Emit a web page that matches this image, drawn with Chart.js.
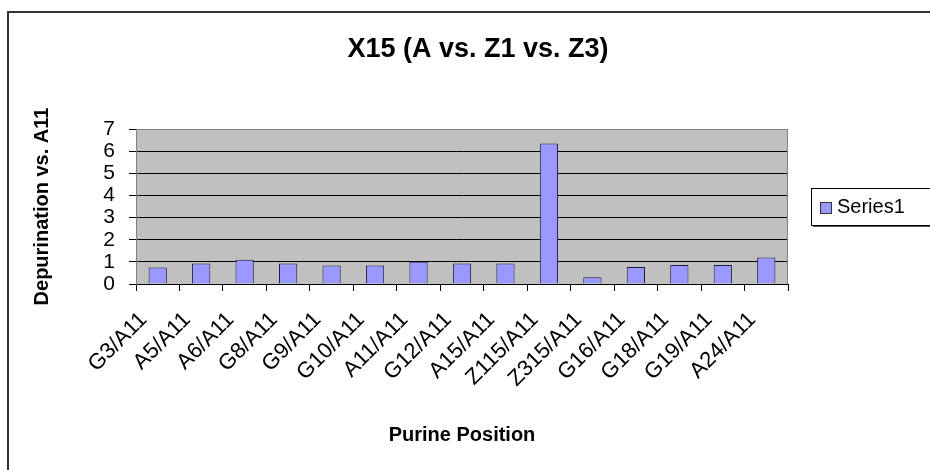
<!DOCTYPE html>
<html>
<head>
<meta charset="utf-8">
<title>X15 (A vs. Z1 vs. Z3)</title>
<script src="https://cdn.jsdelivr.net/npm/chart.js@4.4.0/dist/chart.umd.min.js"></script>
<style>
  html, body { margin: 0; padding: 0; background: #fff; }
  #grafica { display: block; }
</style>
</head>
<body>
<canvas id="grafica" width="930" height="470"></canvas>
<script>
// Datos
const categorias = ["G3/A11", "A5/A11", "A6/A11", "G8/A11", "G9/A11", "G10/A11", "A11/A11", "G12/A11",
                    "A15/A11", "Z115/A11", "Z315/A11", "G16/A11", "G18/A11", "G19/A11", "A24/A11"];
const valores = [0.75, 0.93, 1.1, 0.93, 0.84, 0.84, 1.0, 0.93, 0.93, 6.35, 0.3, 0.77, 0.86, 0.86, 1.2];
const ticksY = [0, 1, 2, 3, 4, 5, 6, 7];
const nombreSerie = "Series1";
const tituloGrafica = "X15 (A vs. Z1 vs. Z3)";
const tituloEjeX = "Purine Position";
const tituloEjeY = "Depurination vs. A11";

const fuente = '"Liberation Sans", Arial, sans-serif';

// Fondo gris del área de trazado y marco exterior
const fondoPlot = {
    id: 'fondoPlot',
    beforeDraw(chart) {
        const { ctx, chartArea: a } = chart;
        ctx.save();
        ctx.fillStyle = '#ffffff';
        ctx.fillRect(0, 0, chart.width, chart.height);
        ctx.fillStyle = '#c0c0c0';
        ctx.fillRect(a.left, a.top, a.right - a.left, a.bottom - a.top);
        // marco de la gráfica (sólo se ven los lados superior e izquierdo)
        ctx.strokeStyle = '#333333';
        ctx.lineWidth = 2;
        ctx.strokeRect(8, 12, chart.width + 20, chart.height + 20);
        ctx.restore();
    },
    beforeDatasetsDraw(chart) {
        const { ctx, chartArea: a } = chart;
        ctx.save();
        ctx.strokeStyle = '#808080';
        ctx.lineWidth = 1;
        ctx.beginPath();
        ctx.moveTo(a.left + 0.5, a.top + 0.5);
        ctx.lineTo(a.right - 0.5, a.top + 0.5);
        ctx.lineTo(a.right - 0.5, a.bottom);
        ctx.stroke();
        ctx.restore();
    }
};

// Título y leyenda con el estilo de Excel
const textos = {
    id: 'textos',
    afterDraw(chart) {
        const ctx = chart.ctx;
        ctx.save();
        ctx.fillStyle = '#000';
        ctx.font = 'bold 27px ' + fuente;
        ctx.textAlign = 'center';
        ctx.textBaseline = 'middle';
        ctx.fillText(tituloGrafica, 478, 50);

        // leyenda
        const x = 811, y = 188, w = 125, h = 37;
        ctx.fillStyle = '#ffffff';
        ctx.fillRect(x, y, w, h);
        ctx.fillStyle = '#555555';
        ctx.fillRect(x + 2, y + h, w, 2);
        ctx.strokeStyle = '#000';
        ctx.lineWidth = 1;
        ctx.strokeRect(x + 0.5, y + 0.5, w, h);

        const ds = chart.data.datasets[0];
        ctx.fillStyle = ds.backgroundColor;
        ctx.fillRect(x + 9.5, y + 14.5, 11, 11);
        ctx.strokeStyle = '#333';
        ctx.strokeRect(x + 9.5, y + 14.5, 11, 11);

        ctx.fillStyle = '#000';
        ctx.font = '20px ' + fuente;
        ctx.textAlign = 'left';
        ctx.fillText(ds.label, x + 26, y + 19);
        ctx.restore();
    }
};

new Chart(document.getElementById('grafica'), {
    type: 'bar',
    data: {
        labels: categorias,
        datasets: [{
            label: nombreSerie,
            data: valores,
            backgroundColor: '#9999ff',
            borderColor: '#1a1a40',
            borderWidth: 1,
            barPercentage: 0.42,
            categoryPercentage: 1
        }]
    },
    options: {
        responsive: false,
        animation: false,
        devicePixelRatio: 1,
        layout: { padding: { left: 24, right: 142, top: 129, bottom: 23 } },
        plugins: {
            legend: { display: false },
            title: { display: false },
            tooltip: { enabled: false }
        },
        scales: {
            x: {
                offset: true,
                grid: { display: true, drawOnChartArea: false, offset: true, tickLength: 7, color: '#000' },
                border: { display: true, color: '#000' },
                ticks: {
                    autoSkip: false, minRotation: 45, maxRotation: 45, padding: 16, labelOffset: -14,
                    color: '#000', font: { family: fuente, size: 22 }
                },
                title: {
                    display: true, text: tituloEjeX, color: '#000',
                    font: { family: fuente, size: 20, weight: 'bold' }, padding: { top: 0, bottom: 0 }
                },
                afterFit(scale) { scale.height = 163; }
            },
            y: {
                min: ticksY[0],
                max: ticksY[ticksY.length - 1],
                ticks: {
                    autoSkip: false, stepSize: 1, padding: 14, color: '#000',
                    font: { family: fuente, size: 21, lineHeight: 1 }
                },
                afterBuildTicks(scale) { scale.ticks = ticksY.map(v => ({ value: v })); },
                grid: {
                    color: c => (c.tick && c.tick.value === ticksY[ticksY.length - 1]) ? '#808080' : '#000',
                    tickColor: '#000',
                    tickLength: 7
                },
                border: { display: true, color: '#808080' },
                title: {
                    display: true, text: tituloEjeY, color: '#000',
                    font: { family: fuente, size: 20, weight: 'bold' }, padding: { top: 6, bottom: 0 }
                },
                afterFit(scale) { scale.width = 112; }
            }
        }
    },
    plugins: [fondoPlot, textos]
});
</script>
</body>
</html>
